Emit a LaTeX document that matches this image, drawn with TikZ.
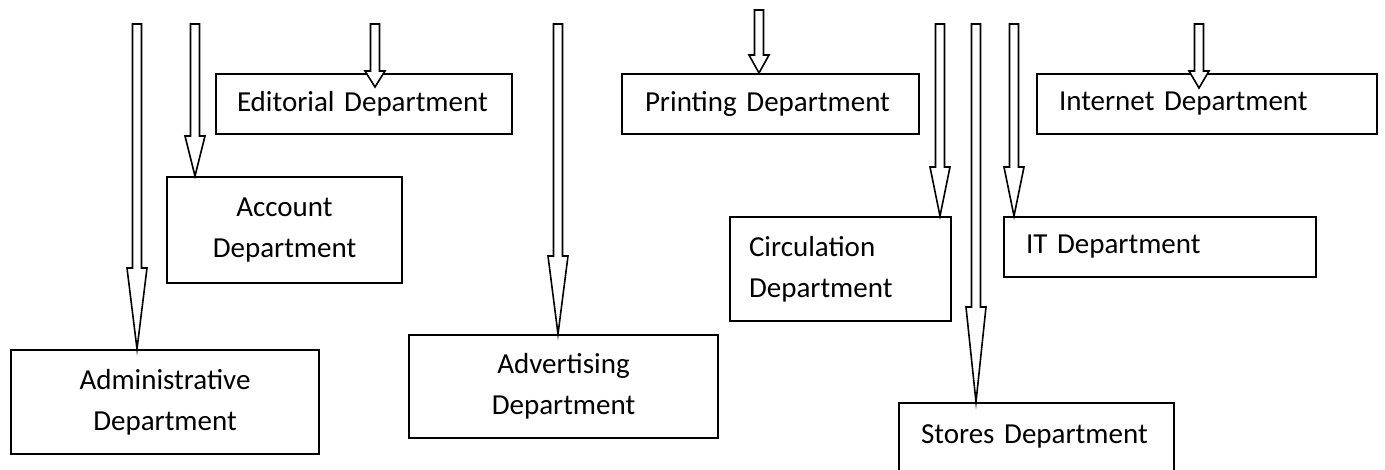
\documentclass[tikz,border=0pt]{standalone}
\usepackage{fontspec}
\setmainfont{Carlito}
\usetikzlibrary{calc}
\tikzstyle{chart}=[x=1pt, y=-1pt, font=\fontsize{29pt}{41pt}\selectfont]
\tikzstyle{dept}=[rectangle, draw, line width=2pt, inner sep=0pt, fill=white]
\tikzstyle{mid}=[dept, align=center]
\tikzstyle{lft}=[dept, align=left]
\tikzstyle{fat}=[draw, line width=1.6pt, fill=white, line join=miter]
\newcommand{\shaftW}{4.5pt}
\newcommand{\headW}{10pt}
% from, to, head length, overshoot
\newcommand{\blockarrow}[4]{%
  \draw[fat] let \p1=(#1), \p2=($(#1 |- #2.north)+(0,#4)$) in
    (\x1-\shaftW,\y1) -- (\x1-\shaftW,\y2+#3pt) -- (\x1-\headW,\y2+#3pt) -- (\x2,\y2)
    -- (\x1+\headW,\y2+#3pt) -- (\x1+\shaftW,\y2+#3pt) -- (\x1+\shaftW,\y1) -- cycle;}

\begin{document}
\begin{tikzpicture}[chart]
		\useasboundingbox (0,0) rectangle (1385,469);

		%The departments
		\node[mid, minimum width=308pt, minimum height=104pt] (admin) at (165,402) {Administrative\\Department};
		\node[mid, minimum width=235pt, minimum height=106pt] (account) at (284.5,230) {Account\\Department};
		\node[lft, minimum width=296pt, minimum height=60pt, text width=254pt, inner xsep=21pt] (editorial) at (364,104) {Editorial Department};
		\node[mid, minimum width=309pt, minimum height=103pt] (advertising) at (563.5,386.5) {Advertising\\Department};
		\node[lft, minimum width=297pt, minimum height=60pt, text width=251pt, inner xsep=23pt] (printing) at (770.5,104) {Printing Department};
		\node[lft, minimum width=221pt, minimum height=104pt, text width=183pt, inner xsep=19pt] (circulation) at (840.5,269) {Circulation\\Department};
		\node[lft, anchor=north west, text width=231pt, inner xsep=22pt, text height=40pt, text depth=40pt] (stores) at (898,402) {Stores Department};
		\node[lft, minimum width=312pt, minimum height=60pt, text width=268pt, inner xsep=22pt] (it) at (1160,247) {IT Department};
		\node[lft, minimum width=340pt, minimum height=60pt, text width=296pt, inner xsep=22pt] (internet) at (1207,104) {Internet Department};

		%The arrow tails
		\coordinate (adminin) at (137,24);
		\coordinate (accountin) at (195,24);
		\coordinate (editorialin) at (375,24);
		\coordinate (advertisingin) at (558,24);
		\coordinate (printingin) at (759,10);
		\coordinate (circulationin) at (940,24);
		\coordinate (storesin) at (976,24);
		\coordinate (itin) at (1014,24);
		\coordinate (internetin) at (1199,24);

		%The arrows
		\blockarrow{adminin}{admin}{81}{0}
		\blockarrow{accountin}{account}{40}{0}
		\blockarrow{editorialin}{editorial}{16}{14}
		\blockarrow{advertisingin}{advertising}{78}{0}
		\blockarrow{printingin}{printing}{18}{0}
		\blockarrow{circulationin}{circulation}{49}{0}
		\blockarrow{storesin}{stores}{95}{0}
		\blockarrow{itin}{it}{49}{0}
		\blockarrow{internetin}{internet}{17}{15}
\end{tikzpicture}
\end{document}
